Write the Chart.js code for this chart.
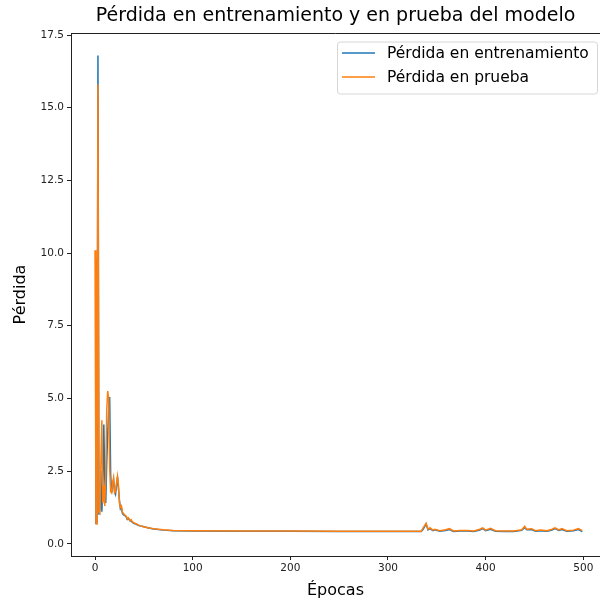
<!DOCTYPE html>
<html>
<head>
<meta charset="utf-8">
<script src="https://cdn.jsdelivr.net/npm/chart.js@4.4.1/dist/chart.umd.min.js"></script>
<style>
  html, body { margin: 0; padding: 0; background: #fff; }
  #wrap { width: 600px; height: 603px; }
</style>
</head>
<body>
<div id="wrap"><canvas id="loss-chart"></canvas></div>
<script>
// Values

const epochs = [
  0, 1, 2, 3, 4, 5, 6, 7, 8, 9, 10, 11, 12, 13, 14, 15, 16, 17, 18, 19,
  20, 21, 22, 23, 24, 25, 26, 27, 28, 29, 30, 32, 33, 34, 36, 37, 38, 40, 42, 44,
  48, 54, 60, 70, 80, 100, 150, 200, 250, 300, 334, 336, 339, 341, 343, 346, 348, 353, 359, 363,
  367, 374, 381, 388, 394, 397, 400, 405, 410, 418, 429, 437, 440, 442, 447, 451, 456, 463, 468, 471,
  475, 478, 483, 490, 495, 499
];

const trainLoss = [
  0.70, 9.80, 0.70, 16.80, 1.00, 1.20, 2.50, 1.10, 2.00, 4.10, 2.20, 1.40, 2.80, 3.80, 4.60, 5.05, 2.40, 1.75, 2.00, 2.20,
  1.80, 1.70, 2.00, 2.30, 1.90, 1.50, 1.20, 1.25, 1.05, 1.00, 0.98, 0.92, 0.84, 0.88, 0.78, 0.80, 0.74, 0.70, 0.68, 0.64,
  0.60, 0.55, 0.51, 0.47, 0.45, 0.44, 0.43, 0.43, 0.42, 0.42, 0.42, 0.50, 0.68, 0.48, 0.52, 0.45, 0.48, 0.43, 0.46, 0.49,
  0.42, 0.44, 0.44, 0.42, 0.47, 0.52, 0.45, 0.50, 0.43, 0.42, 0.42, 0.46, 0.56, 0.48, 0.49, 0.43, 0.45, 0.43, 0.47, 0.52,
  0.46, 0.49, 0.43, 0.45, 0.49, 0.42
];

const testLoss = [
  10.10, 0.70, 0.68, 15.80, 1.10, 1.05, 2.80, 4.25, 1.40, 2.00, 1.30, 2.40, 4.60, 5.25, 5.00, 2.60, 1.80, 1.75, 2.10, 2.27,
  1.75, 1.80, 2.10, 2.33, 2.00, 1.40, 1.25, 1.30, 1.10, 1.05, 1.00, 0.95, 0.86, 0.90, 0.80, 0.83, 0.76, 0.72, 0.69, 0.65,
  0.60, 0.55, 0.52, 0.48, 0.46, 0.45, 0.44, 0.44, 0.43, 0.43, 0.43, 0.55, 0.71, 0.50, 0.55, 0.47, 0.50, 0.45, 0.48, 0.52,
  0.44, 0.46, 0.46, 0.44, 0.50, 0.55, 0.47, 0.53, 0.45, 0.44, 0.44, 0.48, 0.60, 0.50, 0.52, 0.45, 0.47, 0.45, 0.50, 0.55,
  0.48, 0.52, 0.45, 0.47, 0.52, 0.45
];

const xTicks = [0, 100, 200, 300, 400, 500];
const yTicks = [0, 2.5, 5, 7.5, 10, 12.5, 15, 17.5];

const seriesNames = ["Pérdida en entrenamiento", "Pérdida en prueba"];

function toPoints(ys) {
  return epochs.map((e, i) => ({ x: e, y: ys[i] }));
}

// matplotlib style frame (right side falls off the picture) + legend box
const framePlugin = {
  id: "frame",
  afterDatasetsDraw(chart) {
    const { ctx, chartArea: a } = chart;
    ctx.save();
    ctx.strokeStyle = "#222";
    ctx.lineWidth = 1;
    ctx.beginPath();
    ctx.moveTo(a.left + 0.5, a.bottom);
    ctx.lineTo(a.left + 0.5, a.top + 0.5);
    ctx.lineTo(a.right, a.top + 0.5);
    ctx.stroke();

    // legend
    const bx = 337, by = 41.5, bw = 260, bh = 52;
    ctx.fillStyle = "rgba(255,255,255,0.8)";
    ctx.strokeStyle = "#d6d6d6";
    ctx.beginPath();
    ctx.roundRect(bx + 0.5, by + 0.5, bw, bh, 3);
    ctx.fill();
    ctx.stroke();
    ctx.font = "15.5px 'DejaVu Sans'";
    ctx.textBaseline = "middle";
    chart.data.datasets.forEach((ds, i) => {
      const y = 53 + i * 24;
      ctx.strokeStyle = ds.borderColor;
      ctx.lineWidth = 1.5;
      ctx.beginPath();
      ctx.moveTo(342, y);
      ctx.lineTo(375, y);
      ctx.stroke();
      ctx.fillStyle = "#000";
      ctx.fillText(ds.label, 387, y + 1);
    });
    ctx.restore();
  },
};

new Chart(document.getElementById("loss-chart"), {
  type: "line",
  data: {
    datasets: [
      {
        label: seriesNames[0],
        data: toPoints(trainLoss),
        borderColor: "#1f77b4",
        borderWidth: 1.5,
        pointRadius: 0,
        order: 1,
      },
      {
        label: seriesNames[1],
        data: toPoints(testLoss),
        borderColor: "#ff7f0e",
        borderWidth: 1.5,
        pointRadius: 0,
        order: 0,
      },
    ],
  },
  options: {
    responsive: true,
    maintainAspectRatio: false,
    animation: false,
    layout: { padding: { left: 0, right: 0, top: 0, bottom: 0 } },
    plugins: {
      legend: { display: false },
      tooltip: { enabled: false },
      title: {
        display: true,
        fullSize: false,
        text: "Pérdida en entrenamiento y en prueba del modelo",
        color: "#000",
        font: { family: "'DejaVu Sans'", size: 19, weight: "normal" },
        padding: { top: 5, bottom: 5.2 },
      },
    },
    scales: {
      x: {
        type: "linear",
        min: -24.6,
        max: 517.1,
        afterBuildTicks: (s) => { s.ticks = xTicks.map((v) => ({ value: v })); },
        afterFit: (s) => { s.height = 47; },
        grid: { drawOnChartArea: false, tickLength: 4, color: "#222" },
        border: { color: "#222" },
        ticks: {
          color: "#222",
          padding: 2,
          maxRotation: 0,
          font: { family: "'DejaVu Sans'", size: 10.5 },
        },
        title: {
          display: true,
          text: "Épocas",
          color: "#000",
          font: { family: "'DejaVu Sans'", size: 16 },
          padding: { top: 2, bottom: 3 },
        },
      },
      y: {
        type: "linear",
        min: -0.42,
        max: 17.57,
        afterBuildTicks: (s) => { s.ticks = yTicks.map((v) => ({ value: v })); },
        afterFit: (s) => { s.width = 71; },
        grid: { drawOnChartArea: false, tickLength: 4, color: "#222" },
        border: { color: "#222" },
        ticks: {
          color: "#222",
          padding: 3,
          font: { family: "'DejaVu Sans'", size: 10.5 },
          callback: (v) => v.toFixed(1),
        },
        title: {
          display: true,
          text: "Pérdida",
          color: "#000",
          font: { family: "'DejaVu Sans'", size: 16 },
          padding: { top: 11, bottom: 4 },
        },
      },
    },
  },
  plugins: [framePlugin],
});
</script>
</body>
</html>
